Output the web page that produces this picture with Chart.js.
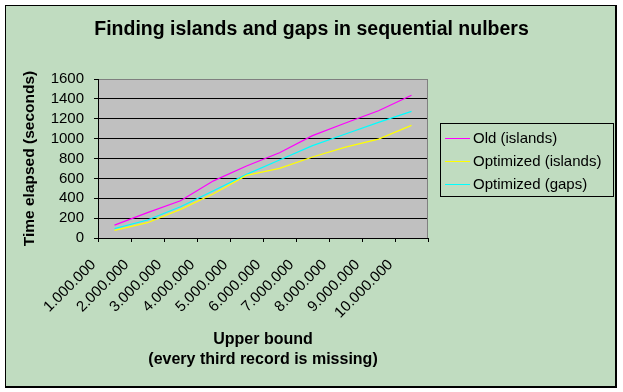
<!DOCTYPE html>
<html>
<head>
<meta charset="utf-8">
<script src="https://cdn.jsdelivr.net/npm/chart.js@4"></script>
<style>
html,body{margin:0;padding:0;background:#fff;}
#wrap{width:623px;height:392px;position:relative;}
</style>
</head>
<body>
<div id="wrap"><canvas id="c" width="623" height="392"></canvas></div>
<script>
const categories = ["1.000.000","2.000.000","3.000.000","4.000.000","5.000.000","6.000.000","7.000.000","8.000.000","9.000.000","10.000.000"];
const oldIslands = [130, 255, 375, 575, 725, 858, 1030, 1157, 1281, 1436];
const optIslands = [77, 154, 288, 445, 630, 701, 815, 915, 995, 1133];
const optGaps = [95, 181, 315, 475, 640, 785, 930, 1046, 1164, 1274];
const seriesNames = ["Old (islands)", "Optimized (islands)", "Optimized (gaps)"];
const yTicks = [0, 200, 400, 600, 800, 1000, 1200, 1400, 1600];
const chartTitle = 'Finding islands and gaps in sequential nulbers';

const FONT = "'Liberation Sans', Arial, sans-serif";

const frame = {
  id: 'frame',
  beforeDraw(chart) {
    const ctx = chart.ctx;
    ctx.save();
    ctx.fillStyle = '#ffffff';
    ctx.fillRect(0, 0, chart.width, chart.height);
    ctx.fillStyle = '#C0DCC0';
    ctx.fillRect(5, 5, 611, 381);
    ctx.fillStyle = '#000';
    ctx.fillRect(5, 5, 612, 1);
    ctx.fillRect(5, 5, 1, 382);
    ctx.fillRect(615, 5, 2, 383);
    ctx.fillRect(5, 386, 612, 2);
    const a = chart.chartArea;
    ctx.fillStyle = '#C0C0C0';
    ctx.fillRect(a.left, a.top, a.right - a.left, a.bottom - a.top);
    ctx.fillStyle = '#000';
    ctx.font = 'bold 19.5px ' + FONT;
    ctx.textAlign = 'center';
    ctx.textBaseline = 'middle';
    ctx.fillText(chartTitle, 311.5, 30);
    ctx.restore();
  },
  beforeDatasetsDraw(chart) {
    const ctx = chart.ctx;
    const a = chart.chartArea;
    ctx.save();
    ctx.fillStyle = '#808080';
    ctx.fillRect(a.left + 1, a.top, a.right - a.left - 1, 1);
    ctx.fillRect(a.right - 1, a.top, 1, a.bottom - a.top);
    ctx.restore();
  },
  afterDraw(chart) {
    const ctx = chart.ctx;
    ctx.save();
    ctx.fillStyle = '#000';
    ctx.fillRect(440, 123, 174, 1);
    ctx.fillRect(440, 196, 174, 1);
    ctx.fillRect(440, 123, 1, 74);
    ctx.fillRect(613, 123, 1, 74);
    ctx.font = '15px ' + FONT;
    ctx.textBaseline = 'middle';
    ctx.textAlign = 'left';
    const rows = [138, 161, 184];
    chart.data.datasets.forEach((ds, i) => {
      const y = rows[i];
      ctx.fillStyle = ds.borderColor;
      ctx.fillRect(445, y, 25, 1);
      ctx.fillStyle = '#000';
      ctx.fillText(ds.label, 473, y + 1);
    });
    ctx.restore();
  }
};

new Chart(document.getElementById('c'), {
  type: 'line',
  data: {
    labels: categories,
    datasets: [
      { label: seriesNames[0], data: oldIslands, borderColor: '#FF00FF', backgroundColor: '#FF00FF', borderWidth: 1.2, pointRadius: 0, tension: 0, fill: false },
      { label: seriesNames[1], data: optIslands, borderColor: '#FFFF00', backgroundColor: '#FFFF00', borderWidth: 1.2, pointRadius: 0, tension: 0, fill: false },
      { label: seriesNames[2], data: optGaps, borderColor: '#00FFFF', backgroundColor: '#00FFFF', borderWidth: 1.2, pointRadius: 0, tension: 0, fill: false }
    ]
  },
  options: {
    responsive: false,
    animation: false,
    devicePixelRatio: 1,
    layout: { padding: { left: 0, right: 195, top: 79, bottom: 0 } },
    plugins: {
      legend: { display: false },
      tooltip: { enabled: false },
      title: { display: false }
    },
    scales: {
      x: {
        offset: true,
        afterFit(s) { s.height = 154; },
        grid: { offset: true, drawOnChartArea: false, drawTicks: true, tickLength: 4, color: '#000' },
        border: { display: true, color: '#000' },
        ticks: {
          color: '#000', autoSkip: false, minRotation: 45, maxRotation: 45, padding: 14, labelOffset: -21,
          font: { family: FONT, size: 15 }
        },
        title: {
          display: true,
          text: ['Upper bound', '(every third record is missing)'],
          color: '#000',
          font: { family: FONT, size: 16, weight: 'bold', lineHeight: 1.25 },
          padding: { top: 0, bottom: 22 }
        }
      },
      y: {
        min: 0, max: 1600,
        afterFit(s) { s.width = 98; },
        afterBuildTicks(s) { s.ticks = yTicks.map(v => ({ value: v })); },
        grid: { color: '#000', drawTicks: true, tickLength: 4 },
        border: { display: true, color: '#000' },
        ticks: { color: '#000', padding: 10, autoSkip: false, font: { family: FONT, size: 15 },
          callback: (v) => String(v) },
        title: {
          display: true,
          text: 'Time elapsed (seconds)',
          color: '#000',
          font: { family: FONT, size: 15.5, weight: 'bold', lineHeight: 1.2 },
          padding: { top: 20, bottom: 0 }
        }
      }
    }
  },
  plugins: [frame]
});
</script>
</body>
</html>
